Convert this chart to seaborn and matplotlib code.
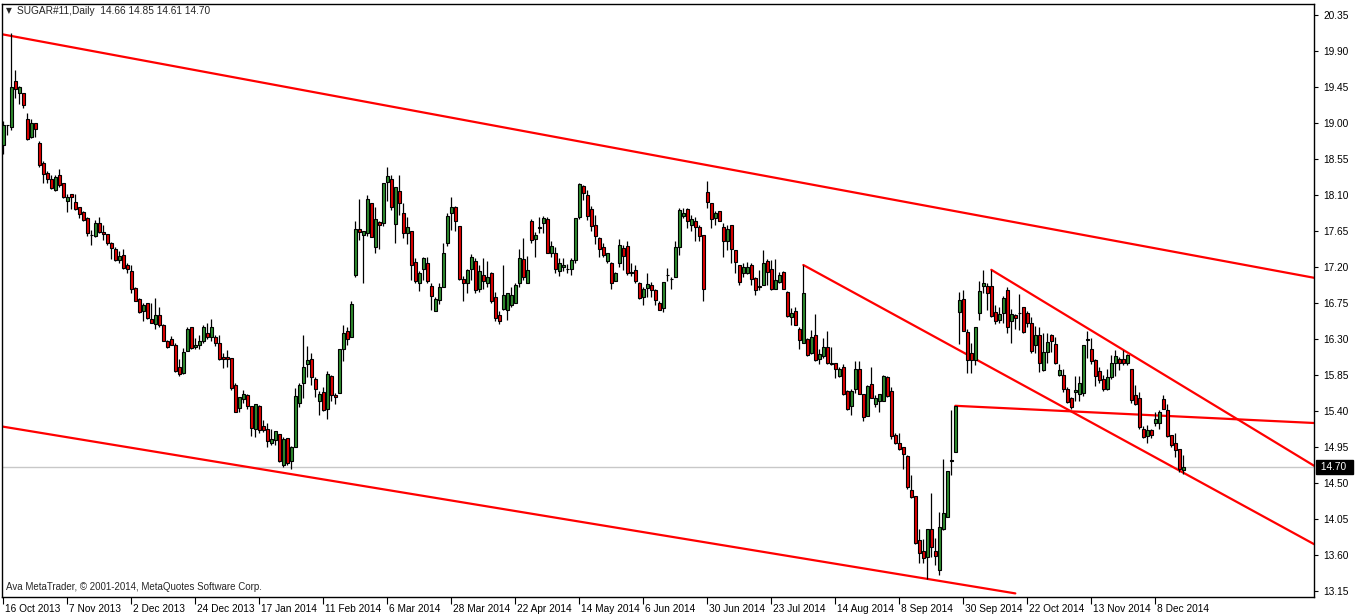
"""SUGAR#11 daily candlestick chart in MetaTrader style (Oct 2013 - Dec 2014)."""

import matplotlib
matplotlib.use("Agg")
import matplotlib.pyplot as plt
import matplotlib.transforms as mtransforms
import numpy as np
import pandas as pd
import seaborn as sns

sns.set_style("white")
plt.rcParams["font.family"] = ["Liberation Sans", "DejaVu Sans"]

# ---- data (one value per daily bar) ----
opens = [
    18.73, 18.97, 18.95, 19.52, 19.38, 19.38, 19.05, 18.83, 19.00, 18.75,
    18.50, 18.37, 18.30, 18.16, 18.35, 18.25, 18.03, 18.11, 18.01, 17.95,
    17.89, 17.81, 17.60, 17.59, 17.75, 17.64, 17.61, 17.50, 17.43, 17.29,
    17.35, 17.23, 17.15, 16.94, 16.80, 16.65, 16.75, 16.55, 16.49, 16.60,
    16.48, 16.28, 16.30, 16.23, 15.95, 15.87, 16.15, 16.45, 16.20, 16.23,
    16.27, 16.38, 16.32, 16.33, 16.25, 16.08, 16.08, 16.06, 15.73, 15.44,
    15.55, 15.60, 15.46, 15.17, 15.46, 15.21, 15.17, 15.00, 15.04, 15.11,
    14.72, 15.06, 14.78, 14.95, 15.50, 15.75, 15.99, 16.05, 15.80, 15.53,
    15.64, 15.43, 15.84, 15.60, 15.63, 16.17, 16.40, 16.33, 17.10, 17.68,
    17.60, 17.63, 18.00, 17.45, 17.76, 17.75, 18.26, 18.30, 17.74, 18.15,
    17.88, 17.63, 17.65, 17.26, 17.00, 17.18, 17.25, 16.96, 16.65, 16.79,
    16.95, 17.50, 17.88, 17.95, 17.71, 17.05, 17.00, 17.17, 17.28, 16.92,
    17.10, 17.00, 17.12, 16.82, 16.60, 16.67, 16.66, 16.73, 16.75, 17.00,
    17.30, 17.00, 17.78, 17.55, 17.69, 17.75, 17.80, 17.37, 17.38, 17.15,
    17.20, 17.17, 17.18, 17.29, 17.82, 18.21, 18.10, 17.93, 17.73, 17.56,
    17.45, 17.28, 17.25, 17.03, 17.25, 17.44, 17.46, 17.13, 17.16, 17.00,
    16.83, 16.94, 16.98, 16.91, 16.75, 16.69, 17.10, 17.05, 17.07, 17.45,
    17.84, 17.93, 17.73, 17.77, 17.70, 17.60, 18.14, 18.00, 17.81, 17.90,
    17.70, 17.53, 17.73, 17.41, 17.23, 17.12, 17.13, 17.23, 17.06, 16.95,
    16.98, 17.28, 17.18, 16.93, 17.01, 17.14, 16.89, 16.58, 16.65, 16.43,
    16.25, 16.30, 16.12, 16.35, 16.05, 16.09, 16.20, 16.00, 16.00, 15.84,
    15.95, 15.65, 15.46, 15.68, 15.93, 15.61, 15.34, 15.74, 15.49, 15.52,
    15.53, 15.83, 15.65, 15.10, 15.00, 14.95, 14.84, 14.41, 14.34, 13.79,
    13.65, 13.57, 13.92, 13.65, 13.41, 13.93, 14.08, 14.78, 14.89, 16.64,
    16.80, 16.39, 16.12, 16.04, 16.63, 16.96, 16.96, 16.96, 16.64, 16.54,
    16.63, 16.91, 16.53, 16.60, 16.62, 16.70, 16.63, 16.50, 16.23, 16.35,
    15.91, 16.14, 16.35, 16.24, 15.85, 15.85, 15.68, 15.56, 15.64, 15.61,
    15.62, 16.29, 16.18, 16.04, 15.90, 15.80, 15.67, 15.82, 16.00, 16.05,
    16.05, 16.00, 15.93, 15.60, 15.56, 15.18, 15.09, 15.16, 15.25, 15.25,
    15.55, 15.41, 15.10, 15.00, 14.93, 14.66,
]
highs = [
    19.02, 18.98, 20.13, 19.66, 19.46, 19.38, 19.13, 19.05, 19.00, 18.78,
    18.52, 18.40, 18.35, 18.35, 18.42, 18.25, 18.11, 18.11, 18.11, 17.95,
    17.90, 17.82, 17.66, 17.79, 17.82, 17.73, 17.61, 17.51, 17.45, 17.40,
    17.43, 17.25, 17.22, 16.95, 16.81, 16.75, 16.75, 16.75, 16.81, 16.70,
    16.49, 16.29, 16.34, 16.25, 16.05, 16.19, 16.45, 16.45, 16.31, 16.35,
    16.47, 16.50, 16.55, 16.35, 16.35, 16.13, 16.16, 16.06, 15.75, 15.57,
    15.66, 15.61, 15.46, 15.49, 15.48, 15.29, 15.25, 15.18, 15.15, 15.11,
    15.08, 15.06, 14.96, 15.69, 15.75, 16.35, 16.21, 16.13, 15.83, 15.65,
    15.70, 15.90, 15.85, 15.62, 16.18, 16.48, 16.45, 16.77, 17.77, 18.05,
    17.65, 18.10, 18.00, 17.95, 17.78, 18.25, 18.45, 18.35, 18.20, 18.35,
    18.00, 17.82, 17.65, 17.31, 17.15, 17.33, 17.32, 17.00, 16.83, 17.00,
    17.50, 17.87, 18.08, 17.96, 17.71, 17.09, 17.18, 17.36, 17.31, 17.23,
    17.31, 17.27, 17.14, 16.89, 16.65, 17.22, 16.88, 16.95, 17.00, 17.43,
    17.56, 17.34, 17.80, 17.64, 17.83, 17.84, 17.83, 17.52, 17.45, 17.31,
    17.31, 17.24, 17.31, 17.81, 18.25, 18.23, 18.16, 17.96, 17.85, 17.58,
    17.50, 17.38, 17.26, 17.14, 17.55, 17.47, 17.52, 17.25, 17.23, 17.01,
    16.95, 17.13, 17.01, 16.93, 16.77, 17.01, 17.19, 17.08, 17.52, 17.94,
    17.94, 17.94, 17.85, 17.82, 17.73, 17.60, 18.27, 18.00, 17.90, 17.90,
    17.75, 17.73, 17.73, 17.41, 17.23, 17.25, 17.26, 17.25, 17.08, 17.16,
    17.41, 17.30, 17.29, 17.30, 17.14, 17.15, 16.90, 16.69, 16.70, 16.45,
    17.23, 16.31, 16.41, 16.61, 16.17, 16.31, 16.40, 16.20, 16.00, 15.95,
    15.99, 15.66, 15.67, 16.02, 16.02, 15.61, 15.73, 15.95, 15.60, 15.61,
    15.85, 15.84, 15.70, 15.13, 15.13, 14.95, 14.85, 14.60, 14.34, 13.92,
    13.80, 13.93, 14.37, 13.81, 14.14, 14.80, 14.65, 15.41, 15.46, 16.89,
    16.91, 16.42, 16.25, 16.45, 17.02, 17.16, 17.00, 17.16, 16.73, 16.70,
    16.84, 16.95, 16.67, 16.61, 16.86, 16.70, 16.65, 16.58, 16.46, 16.45,
    16.37, 16.37, 16.36, 16.33, 15.99, 15.92, 15.70, 15.58, 15.84, 15.84,
    16.23, 16.40, 16.31, 16.05, 15.95, 15.85, 15.93, 16.10, 16.16, 16.07,
    16.16, 16.11, 15.93, 15.73, 15.64, 15.21, 15.23, 15.17, 15.39, 15.41,
    15.60, 15.49, 15.10, 15.12, 14.93, 14.85,
]
lows = [
    18.61, 18.85, 18.91, 19.31, 19.24, 19.19, 18.79, 18.81, 18.83, 18.45,
    18.25, 18.25, 18.17, 18.15, 18.20, 18.06, 17.89, 17.93, 17.91, 17.81,
    17.78, 17.59, 17.48, 17.58, 17.62, 17.54, 17.48, 17.30, 17.28, 17.25,
    17.18, 17.12, 16.88, 16.77, 16.63, 16.53, 16.55, 16.50, 16.43, 16.45,
    16.27, 16.19, 16.22, 15.89, 15.84, 15.86, 16.15, 16.18, 16.18, 16.18,
    16.25, 16.30, 16.27, 16.21, 16.04, 15.94, 15.95, 15.66, 15.39, 15.39,
    15.50, 15.42, 15.09, 15.08, 15.13, 15.14, 14.95, 14.98, 14.98, 14.76,
    14.70, 14.73, 14.68, 14.95, 15.45, 15.56, 15.83, 15.73, 15.58, 15.35,
    15.40, 15.30, 15.52, 15.49, 15.62, 16.03, 16.23, 16.33, 17.08, 17.54,
    17.00, 17.59, 17.58, 17.38, 17.42, 17.71, 18.02, 17.91, 17.50, 17.85,
    17.56, 17.49, 17.04, 17.00, 16.90, 17.04, 17.00, 16.66, 16.65, 16.74,
    16.95, 17.46, 17.66, 17.65, 17.04, 16.77, 16.87, 17.04, 16.88, 16.89,
    16.93, 16.95, 16.75, 16.52, 16.49, 16.66, 16.54, 16.70, 16.75, 16.95,
    17.04, 17.00, 17.50, 17.32, 17.62, 17.62, 17.38, 17.32, 17.12, 17.09,
    17.15, 17.13, 17.10, 17.25, 17.80, 18.04, 17.79, 17.65, 17.49, 17.33,
    17.33, 17.25, 16.93, 17.02, 17.20, 17.16, 17.10, 17.09, 17.00, 16.80,
    16.73, 16.82, 16.83, 16.73, 16.66, 16.64, 17.03, 16.93, 17.07, 17.35,
    17.81, 17.69, 17.65, 17.52, 17.52, 16.78, 17.94, 17.69, 17.73, 17.77,
    17.32, 17.41, 17.25, 17.12, 16.98, 17.08, 17.11, 16.98, 16.85, 16.91,
    16.98, 16.98, 16.91, 16.93, 17.00, 16.93, 16.57, 16.48, 16.47, 16.18,
    16.25, 16.09, 16.11, 16.02, 15.99, 16.06, 15.99, 15.98, 15.81, 15.83,
    15.60, 15.41, 15.35, 15.62, 15.61, 15.28, 15.34, 15.56, 15.45, 15.39,
    15.52, 15.58, 15.05, 14.99, 14.91, 14.68, 14.43, 14.31, 13.74, 13.50,
    13.50, 13.30, 13.58, 13.48, 13.35, 13.91, 14.08, 14.60, 14.89, 16.24,
    16.40, 15.87, 15.88, 15.98, 16.54, 16.87, 16.66, 16.58, 16.49, 16.50,
    16.50, 16.38, 16.25, 16.43, 16.41, 16.38, 16.45, 16.12, 16.12, 15.89,
    15.90, 16.00, 16.14, 15.99, 15.84, 15.64, 15.50, 15.42, 15.52, 15.53,
    15.59, 16.06, 15.99, 15.71, 15.75, 15.65, 15.66, 15.80, 15.84, 15.91,
    15.98, 15.98, 15.50, 15.48, 15.17, 15.06, 15.00, 15.06, 15.21, 15.18,
    15.42, 15.08, 14.95, 14.83, 14.64, 14.61,
]
closes = [
    18.98, 18.97, 19.45, 19.42, 19.45, 19.23, 18.80, 19.00, 18.92, 18.47,
    18.36, 18.30, 18.19, 18.32, 18.22, 18.07, 18.07, 18.07, 17.93, 17.86,
    17.79, 17.62, 17.60, 17.75, 17.64, 17.61, 17.50, 17.44, 17.29, 17.34,
    17.19, 17.17, 16.92, 16.78, 16.64, 16.73, 16.56, 16.50, 16.60, 16.48,
    16.28, 16.20, 16.23, 15.90, 15.86, 16.14, 16.42, 16.19, 16.22, 16.28,
    16.45, 16.33, 16.45, 16.25, 16.05, 16.05, 16.05, 15.69, 15.39, 15.57,
    15.61, 15.46, 15.19, 15.49, 15.16, 15.16, 15.02, 15.05, 15.15, 14.78,
    15.05, 14.75, 14.95, 15.59, 15.72, 15.95, 16.04, 15.83, 15.68, 15.61,
    15.41, 15.86, 15.60, 15.57, 16.18, 16.37, 16.30, 16.74, 17.68, 17.64,
    17.65, 18.05, 17.58, 17.80, 17.73, 18.25, 18.34, 17.95, 18.20, 18.00,
    17.62, 17.70, 17.22, 17.02, 17.13, 17.31, 17.03, 16.84, 16.80, 16.95,
    17.37, 17.84, 17.95, 17.77, 17.05, 17.00, 17.16, 17.32, 16.91, 17.15,
    17.02, 17.08, 16.78, 16.56, 16.53, 16.85, 16.87, 16.85, 16.98, 17.31,
    17.08, 17.16, 17.54, 17.60, 17.69, 17.81, 17.38, 17.46, 17.17, 17.25,
    17.22, 17.17, 17.29, 17.81, 18.24, 18.13, 17.84, 17.71, 17.59, 17.43,
    17.35, 17.38, 17.00, 17.12, 17.48, 17.34, 17.13, 17.14, 17.02, 16.81,
    16.93, 16.99, 16.91, 16.79, 16.66, 17.01, 17.10, 17.05, 17.45, 17.91,
    17.88, 17.77, 17.80, 17.70, 17.59, 16.93, 18.01, 17.80, 17.88, 17.78,
    17.52, 17.68, 17.43, 17.26, 17.01, 17.20, 17.20, 17.05, 16.91, 16.96,
    17.25, 17.14, 16.93, 17.04, 17.10, 16.93, 16.59, 16.62, 16.48, 16.29,
    16.87, 16.10, 16.32, 16.04, 16.11, 16.20, 16.00, 15.99, 15.92, 15.93,
    15.61, 15.42, 15.65, 15.93, 15.61, 15.32, 15.71, 15.56, 15.56, 15.61,
    15.84, 15.59, 15.09, 15.00, 14.93, 14.86, 14.45, 14.32, 13.75, 13.62,
    13.56, 13.93, 13.70, 13.59, 13.95, 14.13, 14.65, 14.78, 15.46, 16.79,
    16.40, 16.04, 16.04, 16.45, 16.90, 17.00, 16.87, 16.59, 16.53, 16.61,
    16.81, 16.45, 16.61, 16.56, 16.63, 16.39, 16.50, 16.15, 16.35, 16.00,
    16.14, 16.26, 16.27, 16.00, 15.91, 15.68, 15.51, 15.45, 15.66, 15.75,
    16.23, 16.29, 16.02, 15.84, 15.79, 15.68, 15.82, 16.00, 16.09, 16.00,
    16.00, 16.10, 15.54, 15.49, 15.20, 15.08, 15.16, 15.10, 15.30, 15.39,
    15.43, 15.09, 14.97, 14.91, 14.67, 14.70,
]

date_labels = [
    "16 Oct 2013", "7 Nov 2013", "2 Dec 2013", "24 Dec 2013", "17 Jan 2014",
    "11 Feb 2014", "6 Mar 2014", "28 Mar 2014", "22 Apr 2014", "14 May 2014",
    "6 Jun 2014", "30 Jun 2014", "23 Jul 2014", "14 Aug 2014", "8 Sep 2014",
    "30 Sep 2014", "22 Oct 2014", "13 Nov 2014", "8 Dec 2014",
]
price_ticks = [13.15, 13.60, 14.05, 14.50, 14.95, 15.40, 15.85, 16.30, 16.75,
               17.20, 17.65, 18.10, 18.55, 19.00, 19.45, 19.90, 20.35]

# trend lines: (bar index, price) anchor pairs
trend_top_x, trend_top_y = [-0.4, 327.7], [20.11, 17.065]
trend_bottom_x, trend_bottom_y = [-0.4, 253.0], [15.207, 13.12]
trend_mid_x, trend_mid_y = [200.0, 327.7], [17.225, 13.735]
trend_upper_x, trend_upper_y = [247.0, 327.7], [17.165, 14.715]
trend_flat_x, trend_flat_y = [238.0, 327.7], [15.465, 15.25]
last_price = 14.70

df = pd.DataFrame({"open": opens, "high": highs, "low": lows, "close": closes})
df["bar"] = np.arange(len(df))

# ---- figure ----
W, H, DPI = 1362, 614, 100
TOP, BOTTOM, LEFT, RIGHT = 4, 597, 2, 1314
fig = plt.figure(figsize=(W / DPI, H / DPI), dpi=DPI)
ax = fig.add_axes([LEFT / W, 1 - BOTTOM / H, (RIGHT - LEFT) / W, (BOTTOM - TOP) / H])

# trend lines under the candles
for tx, ty in [(trend_top_x, trend_top_y), (trend_bottom_x, trend_bottom_y),
               (trend_mid_x, trend_mid_y), (trend_upper_x, trend_upper_y),
               (trend_flat_x, trend_flat_y)]:
    sns.lineplot(x=tx, y=ty, ax=ax, color="#ff0000", linewidth=1.6,
                 legend=False, sort=False, zorder=2)

ax.axhline(last_price, color="#c8c8c8", linewidth=1.0, zorder=1)

body_col = np.where(df["close"] > df["open"], "#2e8b2e",
                    np.where(df["close"] < df["open"], "#e00000", "black"))
ax.vlines(df["bar"], df["low"], df["high"], color="black", linewidth=0.9, zorder=3)
body_bottom = np.minimum(df["open"], df["close"])
body_height = np.maximum((df["close"] - df["open"]).abs(), 0.004)
ax.bar(df["bar"], body_height, bottom=body_bottom, width=0.62,
       color=body_col, edgecolor="black", linewidth=0.8, zorder=4)

# price scale: 80 px per 1.00, 20.35 sits 15 px below the image top
ax.set_xlim((LEFT - 3.33) / 4, (RIGHT - 3.33) / 4)
ax.set_ylim(20.5375 - BOTTOM / 80, 20.5375 - TOP / 80)

# right price scale
ax.yaxis.tick_right()
ax.set_yticks(price_ticks)
ax.set_yticklabels([f"{p:.2f}" for p in price_ticks])
ax.tick_params(axis="y", direction="out", length=3, width=0.8, pad=4,
               labelsize=7.3, colors="black", right=True, left=False)

# bottom date scale
ax.set_xticks(np.arange(len(date_labels)) * 16)
ax.set_xticklabels(date_labels, ha="left")
ax.tick_params(axis="x", direction="out", length=5, width=0.8, pad=0,
               labelsize=7.3, colors="black", bottom=True)
offset = mtransforms.ScaledTranslation(1.5 / DPI, 0, fig.dpi_scale_trans)
for lab in ax.get_xticklabels():
    lab.set_transform(lab.get_transform() + offset)

for sp in ax.spines.values():
    sp.set_color("black")
    sp.set_linewidth(1.0)
ax.set_xlabel("")
ax.set_ylabel("")

# current price box on the scale
trans = mtransforms.blended_transform_factory(ax.transAxes, ax.transData)
ax.text(1.003, last_price, " 14.70  ", transform=trans, ha="left", va="center",
        fontsize=7.3, color="white", zorder=6,
        bbox=dict(boxstyle="square,pad=0.15", fc="black", ec="black"))

# chart header and footer text
fig.text(6 / W, 1 - 11 / H, "\u25bc", fontsize=5.5, va="center", ha="left",
         family=["DejaVu Sans"])
fig.text(17 / W, 1 - 11 / H, "SUGAR#11,Daily  14.66 14.85 14.61 14.70",
         fontsize=7.3, va="center", ha="left")
fig.text(6 / W, 1 - 587 / H, "Ava MetaTrader, \u00a9 2001-2014, MetaQuotes Software Corp.",
         fontsize=7, va="center", ha="left")

fig.savefig("out.png", dpi=DPI, facecolor="white")
